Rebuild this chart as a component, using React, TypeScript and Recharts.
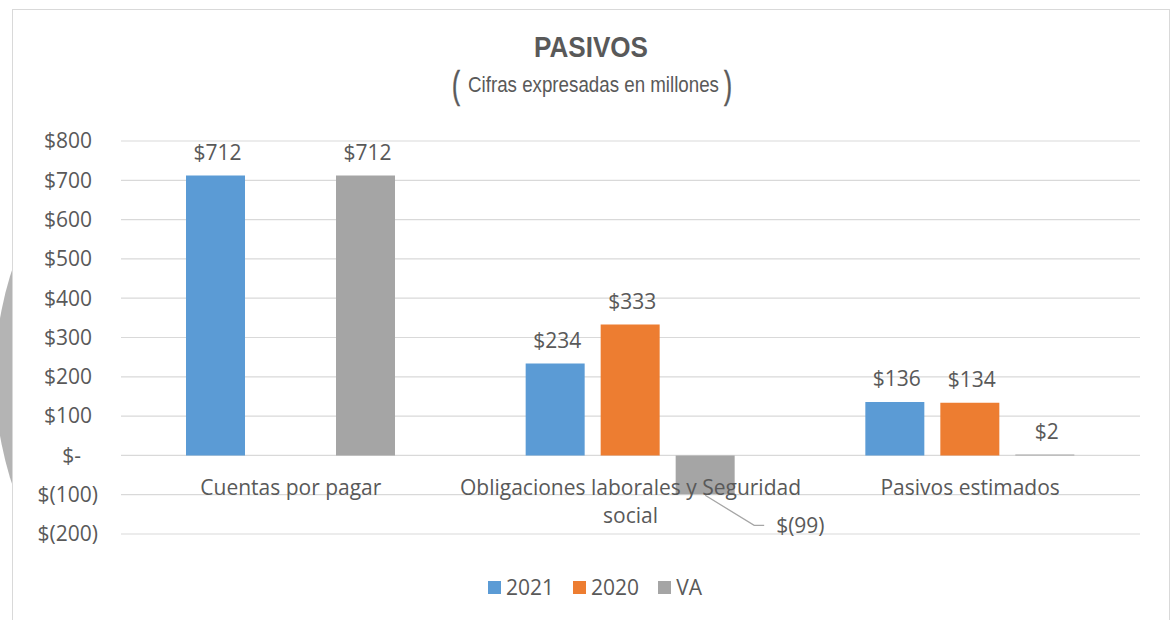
import React from 'react';
import { BarChart, Bar, XAxis, YAxis, CartesianGrid, LabelList } from 'recharts';

const categories = ['Cuentas por pagar', 'Obligaciones laborales y Seguridad social', 'Pasivos estimados'];
const values2021 = [712, 234, 136];
const values2020 = [0, 333, 134];
const valuesVA = [712, -99, 2];
const yTicks = [-200, -100, 0, 100, 200, 300, 400, 500, 600, 700, 800];
const seriesKeys = ['s2021', 's2020', 'va'];
const seriesNames = ['2021', '2020', 'VA'];
const seriesColors = ['#5B9BD5', '#ED7D31', '#A5A5A5'];
const titleText = 'PASIVOS';
const subtitleText = 'Cifras expresadas en millones';

const data = categories.map((c, i) => ({
  name: c,
  s2021: values2021[i],
  s2020: values2020[i],
  va: valuesVA[i],
}));

const W = 1172;
const H = 620;
const PLOT_LEFT = 121;
const PLOT_RIGHT = 1140;
const PLOT_TOP = 141;
const PLOT_BOTTOM = 534;
const X_AXIS_H = 30;
const Y_MIN = -200;
const Y_MAX = 800;
const ZERO_Y = PLOT_TOP + ((Y_MAX - 0) / (Y_MAX - Y_MIN)) * (PLOT_BOTTOM - PLOT_TOP);

const FONT = '"Open Sans", Lato, sans-serif';
const TITLE_FONT = '"Liberation Sans Narrow", "Arial Narrow", "Liberation Sans", Arial, sans-serif';
const TEXT_COLOR = '#595959';
const FS = 21;

const fmt = (v: number) => (v === 0 ? '$-' : v < 0 ? `$(${Math.abs(v)})` : `$${v}`);

let measureCtx: CanvasRenderingContext2D | null = null;
function wrapWords(text: string, maxW: number): string[] {
  if (typeof document === 'undefined') return [text];
  if (!measureCtx) measureCtx = document.createElement('canvas').getContext('2d');
  if (!measureCtx) return [text];
  measureCtx.font = `${FS}px "Open Sans"`;
  const words = text.split(' ');
  const lines: string[] = [];
  let cur = '';
  for (const w of words) {
    const t = cur ? cur + ' ' + w : w;
    if (cur && measureCtx.measureText(t).width > maxW) {
      lines.push(cur);
      cur = w;
    } else {
      cur = t;
    }
  }
  if (cur) lines.push(cur);
  return lines;
}

const YTick = (props: any) => {
  const v = props.payload.value;
  const xEnd = v > 0 ? PLOT_LEFT - 29 : v < 0 ? PLOT_LEFT - 23 : PLOT_LEFT - 40;
  return (
    <text x={xEnd} y={props.y} dy="0.35em" textAnchor="end" fill={TEXT_COLOR} fontSize={FS} fontFamily={FONT}>
      {fmt(v)}
    </text>
  );
};

const XTick = (props: any) => {
  const lines = wrapWords(String(props.payload.value), 345);
  return (
    <text textAnchor="middle" fill={TEXT_COLOR} fontSize={FS} fontFamily={FONT}>
      {lines.map((l, i) => (
        <tspan key={i} x={props.x} y={ZERO_Y + 32 + i * 28} dy="0.35em">
          {l}
        </tspan>
      ))}
    </text>
  );
};

const BarLabel = (props: any) => {
  const { x, y, width, height, value } = props;
  const cx = Number(x) + Number(width) / 2;
  const y1 = Number(y);
  const y2 = Number(y) + Number(height || 0);
  if (value < 0) {
    const bottom = Math.max(y1, y2);
    return (
      <g>
        <polyline
          points={`${cx},${bottom + 1} ${cx + 49},${bottom + 31} ${cx + 59},${bottom + 31}`}
          fill="none"
          stroke="#A6A6A6"
          strokeWidth={1.3}
        />
        <text x={cx + 71} y={bottom + 31} dy="0.35em" textAnchor="start" fill={TEXT_COLOR} fontSize={FS} fontFamily={FONT}>
          {fmt(value)}
        </text>
      </g>
    );
  }
  const top = Math.min(y1, y2);
  return (
    <text x={cx + 2} y={top - 23} dy="0.35em" textAnchor="middle" fill={TEXT_COLOR} fontSize={FS} fontFamily={FONT}>
      {fmt(value)}
    </text>
  );
};

export default function App() {
  return (
    <div style={{ position: 'absolute', left: 0, top: 0, width: W, height: H, overflow: 'hidden', background: '#fff' }}>
      <svg style={{ position: 'absolute', left: 0, top: 0 }} width={W} height={H}>
        <circle cx={340} cy={377} r={345} fill="#B4B4B4" />
      </svg>
      <div
        style={{
          position: 'absolute',
          left: 12,
          top: 9,
          width: 1156,
          height: 660,
          border: '1px solid #D9D9D9',
          background: '#fff',
        }}
      />
      <div style={{ position: 'absolute', left: 0, top: 0 }}>
        <BarChart
          width={W}
          height={H}
          data={data}
          margin={{ top: PLOT_TOP, right: W - PLOT_RIGHT, left: 0, bottom: H - PLOT_BOTTOM - X_AXIS_H }}
          barSize={59}
          barGap={16}
        >
          <CartesianGrid vertical={false} stroke="#D9D9D9" strokeWidth={1.2} />
          <XAxis dataKey="name" height={X_AXIS_H} axisLine={false} tickLine={false} tick={<XTick />} interval={0} />
          <YAxis
            width={PLOT_LEFT}
            domain={[Y_MIN, Y_MAX]}
            ticks={yTicks}
            axisLine={false}
            tickLine={false}
            tick={<YTick />}
            interval={0}
          />
          {seriesKeys.map((k, i) => (
            <Bar key={k} dataKey={k} name={seriesNames[i]} fill={seriesColors[i]} isAnimationActive={false}>
              <LabelList dataKey={k} content={<BarLabel />} />
            </Bar>
          ))}
        </BarChart>
      </div>
      <svg style={{ position: 'absolute', left: 0, top: 0, pointerEvents: 'none' }} width={W} height={140}>
        <text
          x={534}
          y={57}
          textLength={114}
          lengthAdjust="spacingAndGlyphs"
          fontFamily={TITLE_FONT}
          fontWeight="bold"
          fontSize={30}
          fill={TEXT_COLOR}
        >
          {titleText}
        </text>
        <text x={452} y={98} textLength={8} lengthAdjust="spacingAndGlyphs" fontFamily={TITLE_FONT} fontSize={38} fill={TEXT_COLOR} stroke={TEXT_COLOR} strokeWidth={0.6}>
          (
        </text>
        <text
          x={468}
          y={92}
          textLength={251}
          lengthAdjust="spacingAndGlyphs"
          fontFamily={TITLE_FONT}
          fontSize={22}
          fill={TEXT_COLOR}
        >
          {subtitleText}
        </text>
        <text x={724} y={98} textLength={8} lengthAdjust="spacingAndGlyphs" fontFamily={TITLE_FONT} fontSize={38} fill={TEXT_COLOR} stroke={TEXT_COLOR} strokeWidth={0.6}>
          )
        </text>
      </svg>
      <div
        style={{
          position: 'absolute',
          left: 0,
          width: 1190,
          top: 573,
          height: 28,
          display: 'flex',
          justifyContent: 'center',
          alignItems: 'center',
          gap: 19,
          fontFamily: FONT,
          fontSize: FS,
          color: TEXT_COLOR,
        }}
      >
        {seriesNames.map((n, i) => (
          <div key={n} style={{ display: 'flex', alignItems: 'center', gap: 5 }}>
            <div style={{ width: 13, height: 13, background: seriesColors[i] }} />
            <span>{n}</span>
          </div>
        ))}
      </div>
    </div>
  );
}
